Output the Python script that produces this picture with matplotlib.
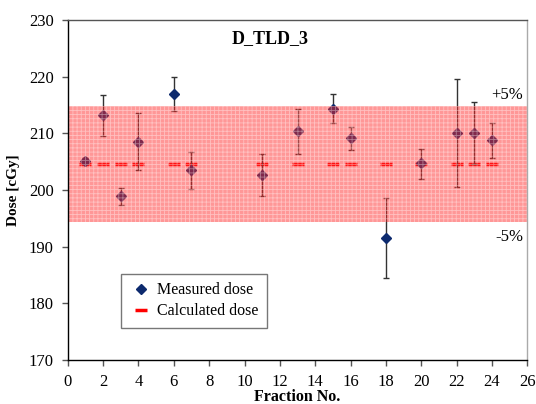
import matplotlib
matplotlib.use("Agg")
import matplotlib.pyplot as plt
from matplotlib.lines import Line2D

plt.rcParams['font.family'] = ['Liberation Serif', 'DejaVu Serif']
plt.rcParams['hatch.linewidth'] = 0.6

fractions = [1, 2, 3, 4, 6, 7, 11, 13, 15, 16, 18, 20, 22, 23, 24]
measured = [205.1, 213.2, 199.0, 208.5, 216.9, 203.5, 202.6, 210.4, 214.3, 209.1, 191.6, 204.7, 210.1, 210.1, 208.9]
err_low = [0.6, 3.7, 1.7, 5.0, 3.0, 3.4, 3.7, 4.1, 2.5, 2.1, 7.2, 2.8, 9.5, 5.6, 3.2]
err_high = [0.6, 3.5, 1.4, 5.0, 3.0, 3.2, 3.7, 3.9, 2.6, 2.0, 7.0, 2.5, 9.4, 5.5, 3.0]
calculated = 204.5
band_low, band_high = 194.4, 214.8

fig = plt.figure(figsize=(5.36, 4.04), dpi=100)
ax = fig.add_axes([0.1263, 0.109, 0.8577, 0.8415])

ax.errorbar(fractions, measured, yerr=[err_low, err_high], fmt='none', ecolor='#333333',
            elinewidth=1.0, capsize=2.5, capthick=1.0, zorder=3)
ax.plot(fractions, [calculated] * len(fractions), linestyle='none', marker='_',
        markersize=9, markeredgewidth=2.5, color='#ff0000', zorder=2)
ax.plot(fractions, measured, linestyle='none', marker='D', markersize=5,
        color='#0d2a6e', zorder=4)

# translucent hatched tolerance band drawn over the marks
ax.fill_between([0, 26], band_low, band_high, facecolor=(1.0, 0.15, 0.15, 0.48),
                edgecolor=(1.0, 1.0, 1.0, 0.4), hatch='++++', linewidth=0, zorder=5)

ax.set_xlim(0, 26)
ax.set_ylim(170, 230)
ax.set_xticks(range(0, 27, 2))
ax.set_yticks(range(170, 231, 10))
ax.tick_params(axis='both', labelsize=12, length=4, width=1, direction='out', color='#555555')
ax.tick_params(axis='x', pad=6)
ax.tick_params(axis='y', pad=6)

ax.spines['left'].set_color('black')
ax.spines['bottom'].set_color('black')
ax.spines['top'].set_color('#555555')
ax.spines['right'].set_color('#aaaaaa')
for s in ax.spines.values():
    s.set_linewidth(1.0)
    s.set_zorder(6)

ax.set_xlabel('Fraction No.', fontsize=11.5, fontweight='bold', labelpad=-0.5)
ax.set_ylabel('Dose [cGy]', fontsize=11, fontweight='bold', labelpad=6)

ax.text(0.44, 0.945, 'D_TLD_3', transform=ax.transAxes, ha='center', va='center',
        fontsize=13, fontweight='bold')
ax.text(25.75, 216.7, '+5%', ha='right', va='center', fontsize=12, clip_on=False, zorder=7)
ax.text(25.75, 191.7, '-5%', ha='right', va='center', fontsize=12, clip_on=False, zorder=7)

handles = [Line2D([], [], linestyle='none', marker='D', markersize=5, color='#0d2a6e'),
           Line2D([], [], linestyle='none', marker='_', markersize=9, markeredgewidth=2.5, color='#ff0000')]
leg = ax.legend(handles, ['Measured dose', 'Calculated dose'], loc='lower left',
                bbox_to_anchor=(0.116, 0.094), borderaxespad=0, fontsize=11.5, frameon=True,
                fancybox=False, edgecolor='#555555', borderpad=0.55, labelspacing=0.3,
                handletextpad=0.3, handlelength=1.4)
leg.get_frame().set_linewidth(1.0)
leg.set_zorder(8)

fig.savefig('out.png', dpi=100)
